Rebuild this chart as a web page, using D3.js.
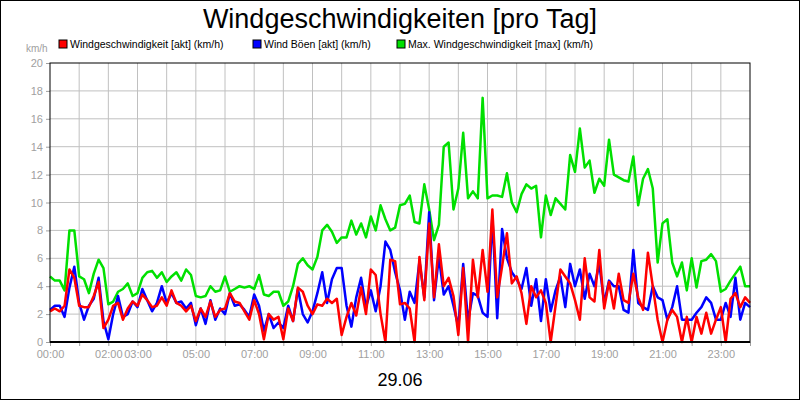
<!DOCTYPE html>
<html>
<head>
<meta charset="utf-8">
<script src="https://cdn.jsdelivr.net/npm/d3@7.9.0/dist/d3.min.js"></script>
<style>
  body { margin: 0; background: #fff; }
  text { font-family: "Liberation Sans", Arial, sans-serif; }
</style>
</head>
<body>
<svg id="chart" width="800" height="400"></svg>
<script>
// readings every 10 minutes, 00:00 .. 24:00 (km/h)
const maxSpeed = [
  4.7,4.4,4.4,3.7,8.0,8.0, 4.7,4.5,3.5,4.9,5.9,5.3, 2.7,2.9,3.6,3.8,4.2,3.3,
  3.5,4.6,5.0,5.1,4.6,5.0, 4.3,4.7,5.0,4.4,5.2,4.8, 3.3,3.2,3.3,4.0,3.6,3.7,
  4.7,3.6,3.8,4.0,3.9,4.0, 3.8,4.8,3.4,3.3,3.6,3.6, 2.6,2.9,4.0,5.6,6.0,5.5,
  5.2,6.1,8.0,8.4,7.9,7.1, 7.5,7.5,8.7,7.7,8.5,7.5, 9.0,8.0,9.8,8.8,8.0,8.2,
  9.8,9.9,10.5,8.6,8.5,11.3, 9.5,7.3,8.4,14.0,14.3,9.5, 11.0,15.0,10.3,10.8,10.3,17.5,
  10.3,10.5,10.5,10.4,12.1,10.0, 9.3,10.6,11.3,11.0,11.2,7.5, 10.5,9.1,10.3,9.9,9.5,13.4,
  12.2,15.3,12.5,13.0,10.7,11.7, 11.2,14.5,12.0,11.8,11.6,11.5, 13.3,9.8,11.7,12.4,11.0,5.7,
  8.5,8.8,5.7,4.7,5.7,3.7, 6.0,3.9,5.8,5.9,6.3,5.8, 3.6,3.8,4.4,4.9,5.4,4.0, 4.0
];
const gusts = [
  2.3,2.6,2.6,1.8,3.9,5.4, 2.8,1.6,2.6,3.1,4.6,1.5, 0.2,2.0,3.3,1.8,2.0,2.9,
  2.5,3.8,3.0,2.2,2.8,4.0, 2.8,3.5,2.8,2.9,2.4,2.8, 1.2,2.4,1.3,3.0,1.6,2.4,
  2.0,3.5,2.6,2.7,2.3,1.8, 3.4,2.6,0.8,2.0,1.0,1.4, 1.0,2.6,1.5,3.8,2.0,1.4,
  2.2,3.5,5.0,2.8,4.5,5.3, 5.3,2.6,1.1,3.2,4.6,2.5, 3.7,2.2,4.0,7.2,6.6,5.0,
  3.7,1.6,3.6,2.8,5.8,3.2, 9.3,3.0,6.1,3.4,4.0,2.6, 1.1,5.6,1.5,3.5,3.3,2.1,
  1.8,9.0,1.7,8.1,6.0,5.0, 4.5,3.8,5.3,2.6,4.5,1.5, 4.5,2.2,3.7,4.7,2.5,5.6,
  4.0,5.2,3.1,4.9,4.0,5.6, 2.8,4.4,4.0,4.0,2.3,2.1, 6.6,2.8,2.5,2.3,4.0,3.2,
  3.0,1.6,2.5,4.0,1.6,1.6, 1.6,2.1,2.5,3.2,2.8,1.6, 1.6,2.8,1.8,4.6,1.6,2.8, 2.5
];
const speed = [
  2.2,2.4,2.2,2.6,5.2,4.6, 2.6,2.5,2.5,3.3,4.3,1.0, 1.6,2.6,2.8,1.6,2.4,2.9,
  2.6,3.4,3.0,2.5,2.6,3.2, 2.6,3.7,2.8,2.6,2.2,2.6, 1.5,2.4,1.8,2.9,1.8,2.3,
  2.4,3.5,2.9,2.8,2.2,1.6, 3.0,2.0,0.2,2.0,1.6,1.8, 0.2,2.4,1.5,3.9,3.6,2.6,
  2.0,2.7,2.6,3.1,2.8,3.1, 0.5,1.8,2.8,1.9,3.9,2.0, 5.2,4.8,2.0,0.0,5.9,5.8,
  2.7,2.8,2.4,0.0,6.1,3.0, 8.5,3.2,7.0,4.0,4.6,3.3, 0.5,5.3,0.0,5.9,3.2,6.6,
  3.6,9.5,3.2,5.4,7.8,4.2, 4.7,3.5,1.3,4.0,3.2,3.7, 2.8,0.0,2.6,5.2,4.7,4.2,
  3.0,1.6,6.0,3.2,2.9,6.6, 2.4,4.3,2.4,4.9,3.0,2.8, 4.9,3.2,2.3,6.4,4.0,1.6,
  0.0,1.6,2.3,1.8,0.0,1.8, 0.0,1.8,0.6,2.1,0.6,1.6, 2.5,0.0,3.1,3.5,2.5,3.2, 2.8
];
const hourLabels = [0, 2, 3, 5, 7, 9, 11, 13, 15, 17, 19, 21, 23];
const yTicks = [0, 2, 4, 6, 8, 10, 12, 14, 16, 18, 20];
const legendItems = [
  { name: 'Windgeschwindigkeit [akt] (km/h)', color: '#ff0000' },
  { name: 'Wind Böen [akt] (km/h)', color: '#0000ff' },
  { name: 'Max. Windgeschwindigkeit [max] (km/h)', color: '#00e000' }
];

const svg = d3.select('#chart');
const plotL = 50, plotR = 750, plotT = 63, plotB = 342;

svg.append('rect').attr('x', 0.5).attr('y', 0.5).attr('width', 799).attr('height', 399)
  .attr('fill', '#fff').attr('stroke', '#000');

const x = d3.scaleLinear().domain([0, 24]).range([plotL, plotR]);
const y = d3.scaleLinear().domain([0, 20]).range([plotB, plotT]);

// grid
svg.append('g').selectAll('line').data(d3.range(1, 24)).join('line')
  .attr('x1', d => x(d)).attr('x2', d => x(d)).attr('y1', plotT).attr('y2', plotB)
  .attr('stroke', '#c0c0c0');
svg.append('g').selectAll('line').data(yTicks.slice(1, -1)).join('line')
  .attr('x1', plotL).attr('x2', plotR).attr('y1', d => y(d)).attr('y2', d => y(d))
  .attr('stroke', '#c0c0c0');

// axes
const yAxis = svg.append('g').attr('transform', `translate(${plotL},0)`)
  .call(d3.axisLeft(y).tickValues(yTicks).tickSize(4).tickPadding(3));
const xAxis = svg.append('g').attr('transform', `translate(0,${plotB})`)
  .call(d3.axisBottom(x).tickValues(d3.range(0, 25)).tickSize(4).tickPadding(4)
    .tickFormat(d => hourLabels.includes(d) ? String(d).padStart(2, '0') + ':00' : ''));
[yAxis, xAxis].forEach(a => {
  a.select('.domain').remove();
  a.selectAll('line').attr('stroke', '#a0a0a0');
  a.selectAll('text').attr('fill', '#a0a0a0').attr('font-size', 11)
    .attr('font-family', '"Liberation Sans", Arial, sans-serif');
});

const line = d3.line().x((d, i) => x(i / 6)).y(d => y(d));
[[maxSpeed, '#00e000'], [gusts, '#0000ff'], [speed, '#ff0000']].forEach(([data, color]) => {
  svg.append('path').datum(data).attr('d', line).attr('fill', 'none')
    .attr('stroke', color).attr('stroke-width', 2.5).attr('stroke-linejoin', 'round');
});

// frame
svg.append('rect').attr('x', plotL).attr('y', plotT).attr('width', plotR - plotL).attr('height', plotB - plotT)
  .attr('fill', 'none').attr('stroke', '#000');
svg.append('line').attr('x1', plotL).attr('x2', plotR).attr('y1', plotB).attr('y2', plotB)
  .attr('stroke', '#000').attr('stroke-width', 2);

svg.append('text').attr('x', 400).attr('y', 28).attr('text-anchor', 'middle')
  .attr('font-size', 27).text('Windgeschwindigkeiten [pro Tag]');
svg.append('text').attr('x', 26).attr('y', 52).attr('font-size', 10).attr('fill', '#a0a0a0').text('km/h');

const legendX = [59, 253, 397];
const lg = svg.append('g').selectAll('g').data(legendItems).join('g')
  .attr('transform', (d, i) => `translate(${legendX[i]},40)`);
lg.append('rect').attr('width', 8).attr('height', 8).attr('fill', d => d.color).attr('stroke', '#000');
lg.append('text').attr('x', 11).attr('y', 8).attr('font-size', 10.5).text(d => d.name);

svg.append('text').attr('x', 400).attr('y', 386).attr('text-anchor', 'middle')
  .attr('font-size', 18).text('29.06');
</script>
</body>
</html>
